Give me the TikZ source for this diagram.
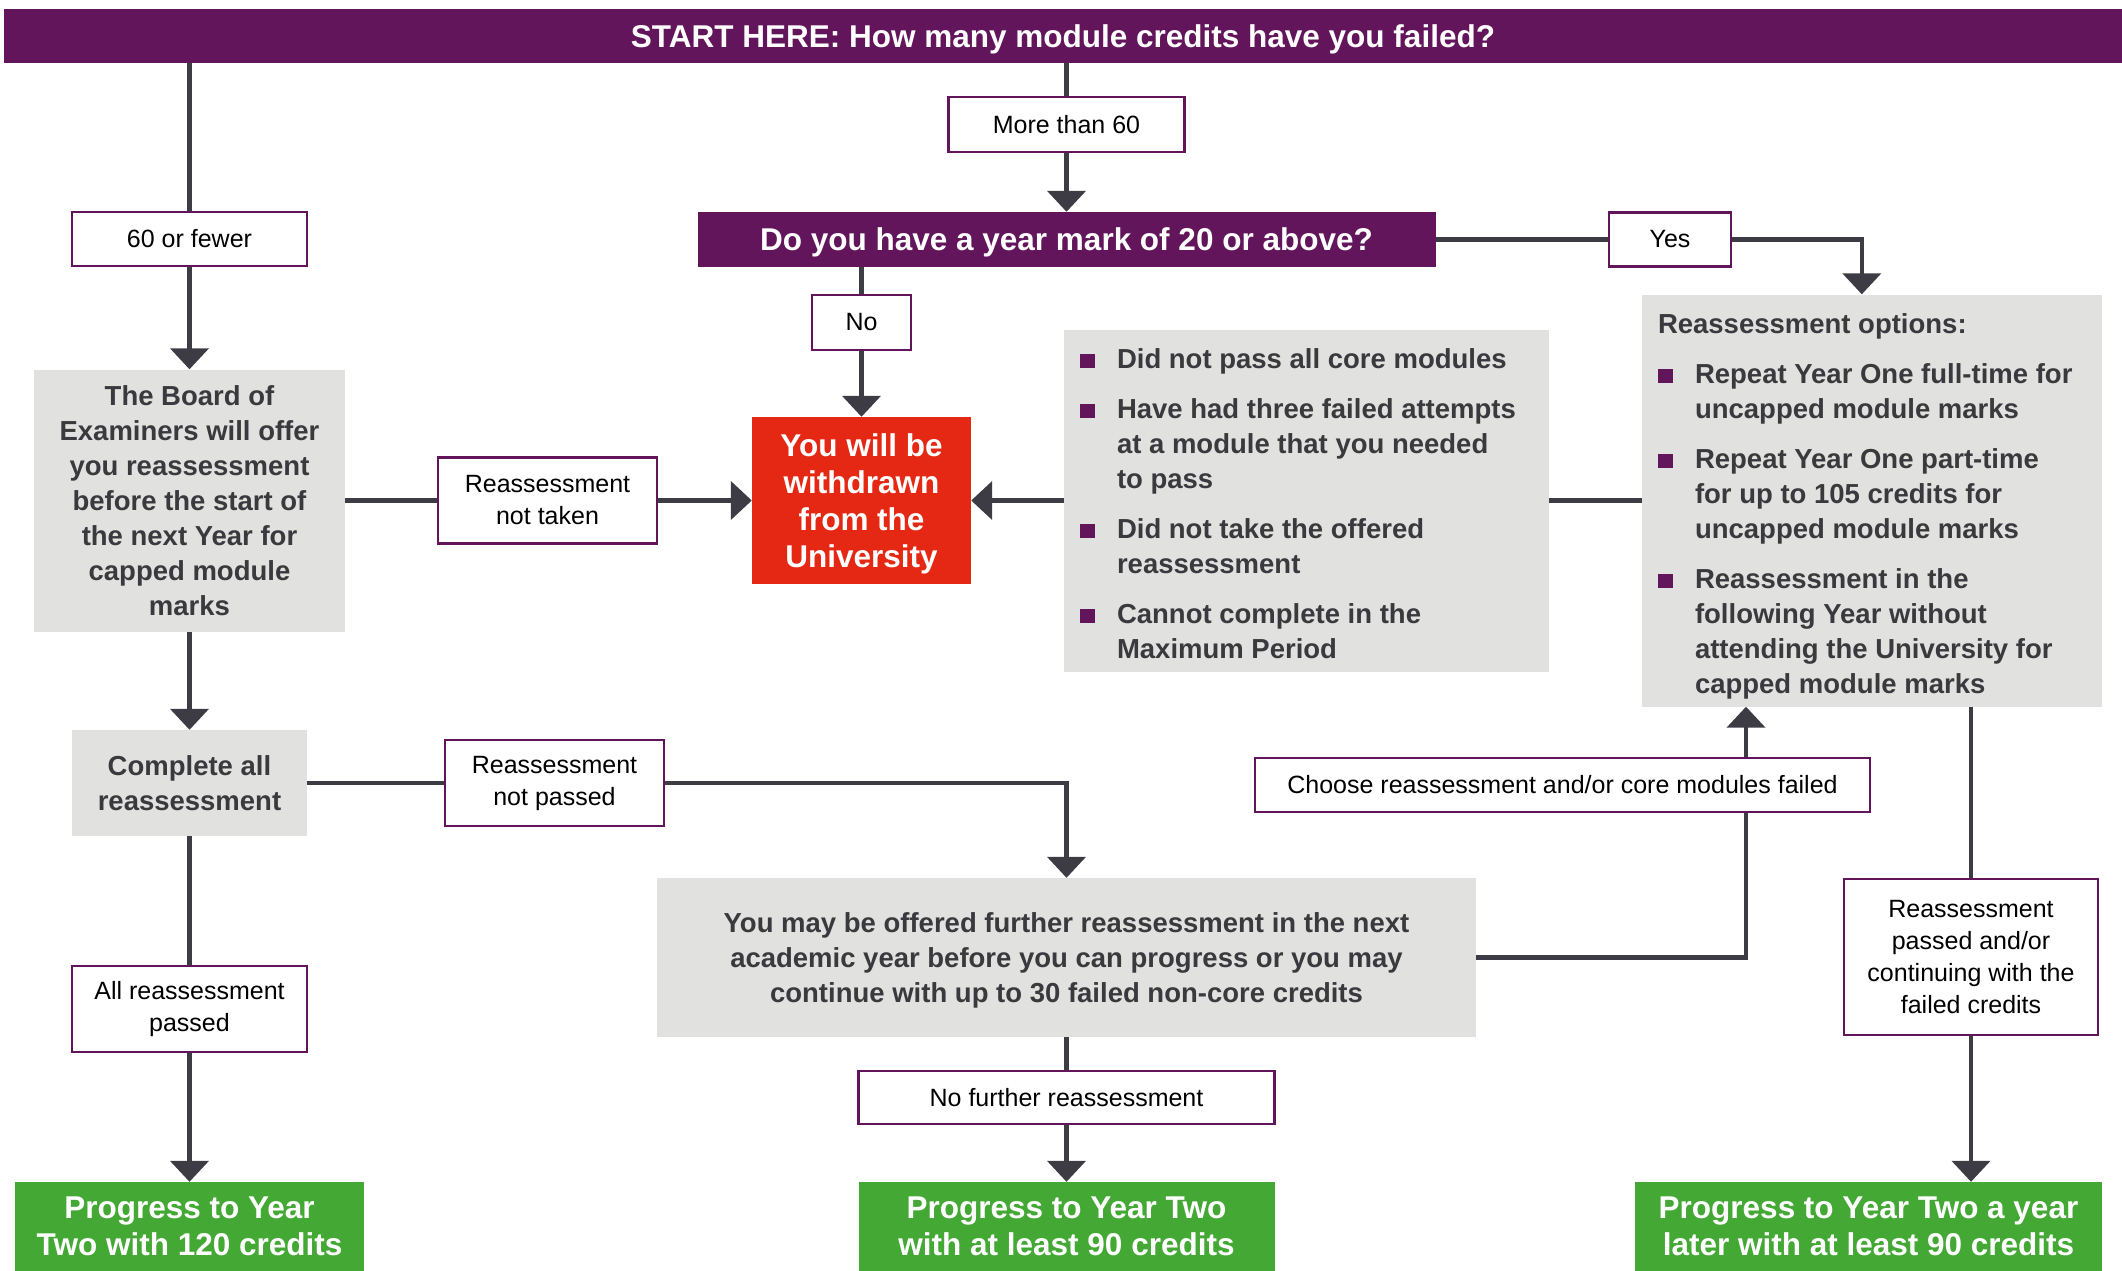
\documentclass[tikz,border=0pt]{standalone}
\usepackage{fontspec}
\setmainfont{Liberation Sans}
\usepackage{xcolor}
\usetikzlibrary{arrows.meta}
\definecolor{uopurple}{RGB}{99,21,92}
\definecolor{boxgrey}{RGB}{225,225,223}
\definecolor{textgrey}{RGB}{58,58,62}
\definecolor{alertred}{RGB}{228,40,20}
\definecolor{passgreen}{RGB}{68,168,53}
\definecolor{linegrey}{RGB}{61,60,68}
% purple square bullet
\newcommand{\sqbullet}{\textcolor{uopurple}{\rule{15pt}{14pt}}}
\tikzset{
    % Define standard node styles
    headbar/.style={
        rectangle, fill=uopurple, text=white, inner sep=0pt, text depth=0pt,
        font=\fontsize{31.5}{37}\selectfont\bfseries
    },
    labelbox/.style={
        rectangle, draw=uopurple, line width=2.5pt, fill=white,
        inner sep=0pt, align=center,
        font=\fontsize{25}{32}\selectfont
    },
    infobox/.style={
        rectangle, fill=boxgrey, text=textgrey, inner sep=0pt, text depth=0pt,
        align=center, font=\fontsize{27.5}{35}\selectfont\bfseries
    },
    listbox/.style={
        rectangle, fill=boxgrey, text=textgrey, inner sep=0pt,
        font=\fontsize{27.5}{35}\selectfont\bfseries
    },
    withdrawbox/.style={
        rectangle, fill=alertred, text=white, inner sep=0pt, text depth=0pt,
        align=center, font=\fontsize{31.5}{37}\selectfont\bfseries
    },
    progressbox/.style={withdrawbox, fill=passgreen},
    flowline/.style={draw=linegrey, line width=4.5pt},
    flowarrow/.style={flowline, -{Triangle[length=21pt,width=38pt]}}
}

\begin{document}
\begin{tikzpicture}[x=1pt, y=-1pt]
\useasboundingbox (0,0) rectangle (2122,1271);

% question bars
\node[headbar, minimum width=2118pt, minimum height=54pt] (start) at (1063,36)
    {START HERE: How many module credits have you failed?};
\node[headbar, minimum width=738pt, minimum height=55pt] (year) at (1066.5,239.5)
    {Do you have a year mark of 20 or above?};

% grey boxes
\node[infobox, minimum width=311pt, minimum height=262pt] (board) at (189.5,500.5)
    {The Board of\\Examiners will offer\\you reassessment\\before the start of\\the next Year for\\capped module\\marks};
\node[infobox, minimum width=235pt, minimum height=106pt] (complete) at (189.5,783)
    {Complete all\\reassessment};
\node[infobox, minimum width=819pt, minimum height=159pt] (further) at (1066.5,957.5)
    {You may be offered further reassessment in the next\\academic year before you can progress or you may\\continue with up to 30 failed non-core credits};
\node[listbox, minimum width=485pt, minimum height=342pt] (criteria) at (1306.5,500.5) {%
    \begin{tabular}{@{}p{37pt}@{}p{416pt}@{}}
    \sqbullet\rule{0pt}{35.5pt} & Did not pass all core modules\\[15pt]
    \sqbullet & Have had three failed attempts\\
              & at a module that you needed\\
              & to pass\\[15pt]
    \sqbullet & Did not take the offered\\
              & reassessment\\[15pt]
    \sqbullet & Cannot complete in the\\
              & Maximum Period
    \end{tabular}};
\node[listbox, minimum width=460pt, minimum height=412pt] (options) at (1872,500.5) {%
    \begin{tabular}{@{}p{37pt}@{}p{391pt}@{}}
    \multicolumn{2}{@{}p{428pt}@{}}{\rule{0pt}{35.5pt}Reassessment options:}\\[15pt]
    \sqbullet & Repeat Year One full-time for\\
              & uncapped module marks\\[15pt]
    \sqbullet & Repeat Year One part-time\\
              & for up to 105 credits for\\
              & uncapped module marks\\[15pt]
    \sqbullet & Reassessment in the\\
              & following Year without\\
              & attending the University for\\
              & capped module marks
    \end{tabular}};

% outcomes
\node[withdrawbox, minimum width=219pt, minimum height=167pt] (withdrawn) at (861.5,500.5)
    {You will be\\withdrawn\\from the\\University};
\node[progressbox, minimum width=349pt, minimum height=89pt] (prog120) at (189.5,1226.5)
    {Progress to Year\\Two with 120 credits};
\node[progressbox, minimum width=416pt, minimum height=89pt] (prog90) at (1066.5,1226.5)
    {Progress to Year Two\\with at least 90 credits};
\node[progressbox, minimum width=467pt, minimum height=89pt] (proglater) at (1868.5,1226.5)
    {Progress to Year Two a year\\later with at least 90 credits};

% answer labels
\node[labelbox, minimum width=235pt, minimum height=54pt] (fewer) at (189.5,239) {60 or fewer};
\node[labelbox, minimum width=236pt, minimum height=55pt] (more) at (1066.5,124.5) {More than 60};
\node[labelbox, minimum width=99pt, minimum height=55pt] (no) at (861.5,322.5) {No};
\node[labelbox, minimum width=122pt, minimum height=54pt] (yes) at (1670,239.5) {Yes};
\node[labelbox, minimum width=219pt, minimum height=86pt] (nottaken) at (547.5,500.5) {Reassessment\\not taken};
\node[labelbox, minimum width=219pt, minimum height=86pt] (notpassed) at (554.5,783) {Reassessment\\not passed};
\node[labelbox, minimum width=235pt, minimum height=86pt] (allpassed) at (189.5,1009) {All reassessment\\passed};
\node[labelbox, minimum width=416pt, minimum height=53pt] (nofurther) at (1066.5,1097.5) {No further reassessment};
\node[labelbox, minimum width=615pt, minimum height=54pt] (choose) at (1562.5,785) {Choose reassessment and/or core modules failed};
\node[labelbox, minimum width=254pt, minimum height=156pt] (passed) at (1971,957) {Reassessment\\passed and/or\\continuing with the\\failed credits};
\coordinate (loopx) at (1746,785);

% connectors
\draw[flowline] (start.south -| fewer) -- (fewer);
\draw[flowarrow] (fewer) -- (board);
\draw[flowline] (start.south -| more) -- (more);
\draw[flowarrow] (more) -- (year);
\draw[flowline] (year.south -| no) -- (no);
\draw[flowarrow] (no) -- (withdrawn);
\draw[flowline] (year) -- (yes);
\draw[flowarrow] (yes) -| ([xshift=220pt]options.north west);
\draw[flowline] (board) -- (nottaken);
\draw[flowarrow] (nottaken) -- (withdrawn);
\draw[flowline] (options) -- (criteria);
\draw[flowarrow] (criteria) -- (withdrawn);
\draw[flowarrow] (board) -- (complete);
\draw[flowline] (complete) -- (notpassed);
\draw[flowarrow] (notpassed) -| (further);
\draw[flowline] (complete) -- (allpassed);
\draw[flowarrow] (allpassed) -- (prog120);
\draw[flowline] (further) -- (nofurther);
\draw[flowarrow] (nofurther) -- (prog90);
\draw[flowline] (further) -| (choose.south -| loopx);
\draw[flowarrow] (choose.north -| loopx) -- (options.south -| loopx);
\draw[flowline] (options.south -| passed) -- (passed);
\draw[flowarrow] (passed) -- (passed |- proglater.north);

\end{tikzpicture}
\end{document}
